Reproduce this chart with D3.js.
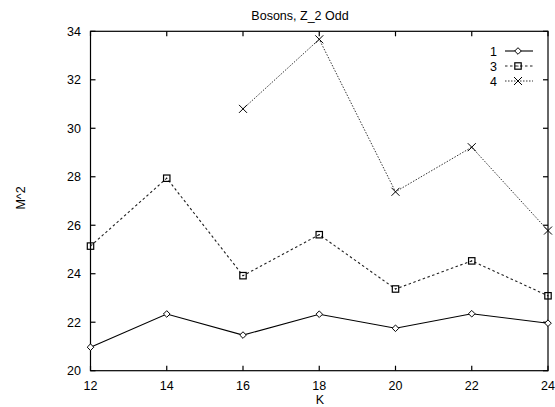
<!DOCTYPE html>
<meta charset="utf-8">
<style>
body { margin: 0; background: #fff; }
text { font-family: "Liberation Sans", Arial, sans-serif; font-size: 12.5px; fill: #000; }
.line { fill: none; }
</style>
<svg width="555" height="407"></svg>
<script src="https://d3js.org/d3.v7.min.js"></script>
<script>
// data
var kValues = [12, 14, 16, 18, 20, 22, 24];
var series1 = [20.97, 22.34, 21.47, 22.33, 21.75, 22.35, 21.96];
var series3 = [25.14, 27.94, 23.92, 25.61, 23.37, 24.53, 23.09];
var series4K = [16, 18, 20, 22, 24];
var series4 = [30.8, 33.67, 27.38, 29.22, 25.78];
var yTicks = [20, 22, 24, 26, 28, 30, 32, 34];
var legendNames = ["1", "3", "4"];

var svg = d3.select("svg");
var plotL = 90.5, plotR = 548, plotT = 31.3, plotB = 370.7;

var x = d3.scaleLinear().domain([12, 24]).range([plotL, plotR]);
var y = d3.scaleLinear().domain([20, 34]).range([plotB, plotT]);

// frame
svg.append("rect")
    .attr("x", plotL).attr("y", plotT)
    .attr("width", plotR - plotL).attr("height", plotB - plotT)
    .attr("fill", "none").attr("stroke", "#000").attr("stroke-width", 1.2);

// gnuplot style inward ticks on all sides
var tk = 5;
var g = svg.append("g").attr("stroke", "#000").attr("stroke-width", 1.2);
kValues.forEach(function(k) {
  g.append("line").attr("x1", x(k)).attr("x2", x(k)).attr("y1", plotB).attr("y2", plotB - tk);
  g.append("line").attr("x1", x(k)).attr("x2", x(k)).attr("y1", plotT).attr("y2", plotT + tk);
});
yTicks.forEach(function(v) {
  g.append("line").attr("x1", plotL).attr("x2", plotL + tk).attr("y1", y(v)).attr("y2", y(v));
  g.append("line").attr("x1", plotR).attr("x2", plotR - tk).attr("y1", y(v)).attr("y2", y(v));
});

// tick labels
svg.append("g").selectAll("text").data(kValues).enter().append("text")
    .attr("x", function(d) { return x(d); }).attr("y", plotB + 19)
    .attr("text-anchor", "middle").text(function(d) { return d; });
svg.append("g").selectAll("text").data(yTicks).enter().append("text")
    .attr("x", 81).attr("y", function(d) { return y(d) + 4.5; })
    .attr("text-anchor", "end").text(function(d) { return d; });

// titles
svg.append("text").attr("x", 300).attr("y", 20).attr("text-anchor", "middle").text("Bosons, Z_2 Odd");
svg.append("text").attr("x", 320).attr("y", 404).attr("text-anchor", "middle").text("K");
svg.append("text").attr("transform", "translate(25,198) rotate(-90)")
    .attr("text-anchor", "middle").text("M^2");

// markers
function marker(sel, type, cx, cy) {
  if (type === "diamond") {
    sel.append("path").attr("d", "M" + (cx - 3.3) + "," + cy + "L" + cx + "," + (cy - 3.3) +
        "L" + (cx + 3.3) + "," + cy + "L" + cx + "," + (cy + 3.3) + "Z")
      .attr("fill", "#fff").attr("stroke", "#000").attr("stroke-width", 1);
  } else if (type === "square") {
    sel.append("rect").attr("x", cx - 3.2).attr("y", cy - 3.2).attr("width", 6.4).attr("height", 6.4)
      .attr("fill", "none").attr("stroke", "#000").attr("stroke-width", 1.2);
    sel.append("circle").attr("cx", cx).attr("cy", cy).attr("r", 0.6).attr("fill", "#000");
  } else {
    sel.append("path").attr("d", "M" + (cx - 4) + "," + (cy - 4) + "L" + (cx + 4) + "," + (cy + 4) +
        "M" + (cx - 4) + "," + (cy + 4) + "L" + (cx + 4) + "," + (cy - 4))
      .attr("stroke", "#000").attr("stroke-width", 1);
  }
}

var styles = [
  { ks: kValues, vs: series1, marker: "diamond", dash: null, color: "#000", width: 1.1 },
  { ks: kValues, vs: series3, marker: "square", dash: "2.5,2.5", color: "#222", width: 1.1 },
  { ks: series4K, vs: series4, marker: "cross", dash: "1.5,1.5", color: "#333", width: 1 }
];

var line = d3.line().x(function(d) { return x(d[0]); }).y(function(d) { return y(d[1]); });

styles.forEach(function(s) {
  var pts = s.ks.map(function(k, i) { return [k, s.vs[i]]; });
  svg.append("path").datum(pts).attr("class", "line").attr("d", line)
      .attr("stroke", s.color).attr("stroke-width", s.width)
      .attr("stroke-dasharray", s.dash);
  var mg = svg.append("g");
  pts.forEach(function(p) { marker(mg, s.marker, x(p[0]), y(p[1])); });
});

// legend
var legendY = [51, 66, 81];
styles.forEach(function(s, i) {
  var ly = legendY[i];
  svg.append("text").attr("x", 497).attr("y", ly + 4.5).attr("text-anchor", "end").text(legendNames[i]);
  svg.append("line").attr("x1", 505).attr("x2", 533).attr("y1", ly).attr("y2", ly)
      .attr("stroke", s.color).attr("stroke-width", s.width).attr("stroke-dasharray", s.dash);
  marker(svg, s.marker, 518, ly);
});
</script>
